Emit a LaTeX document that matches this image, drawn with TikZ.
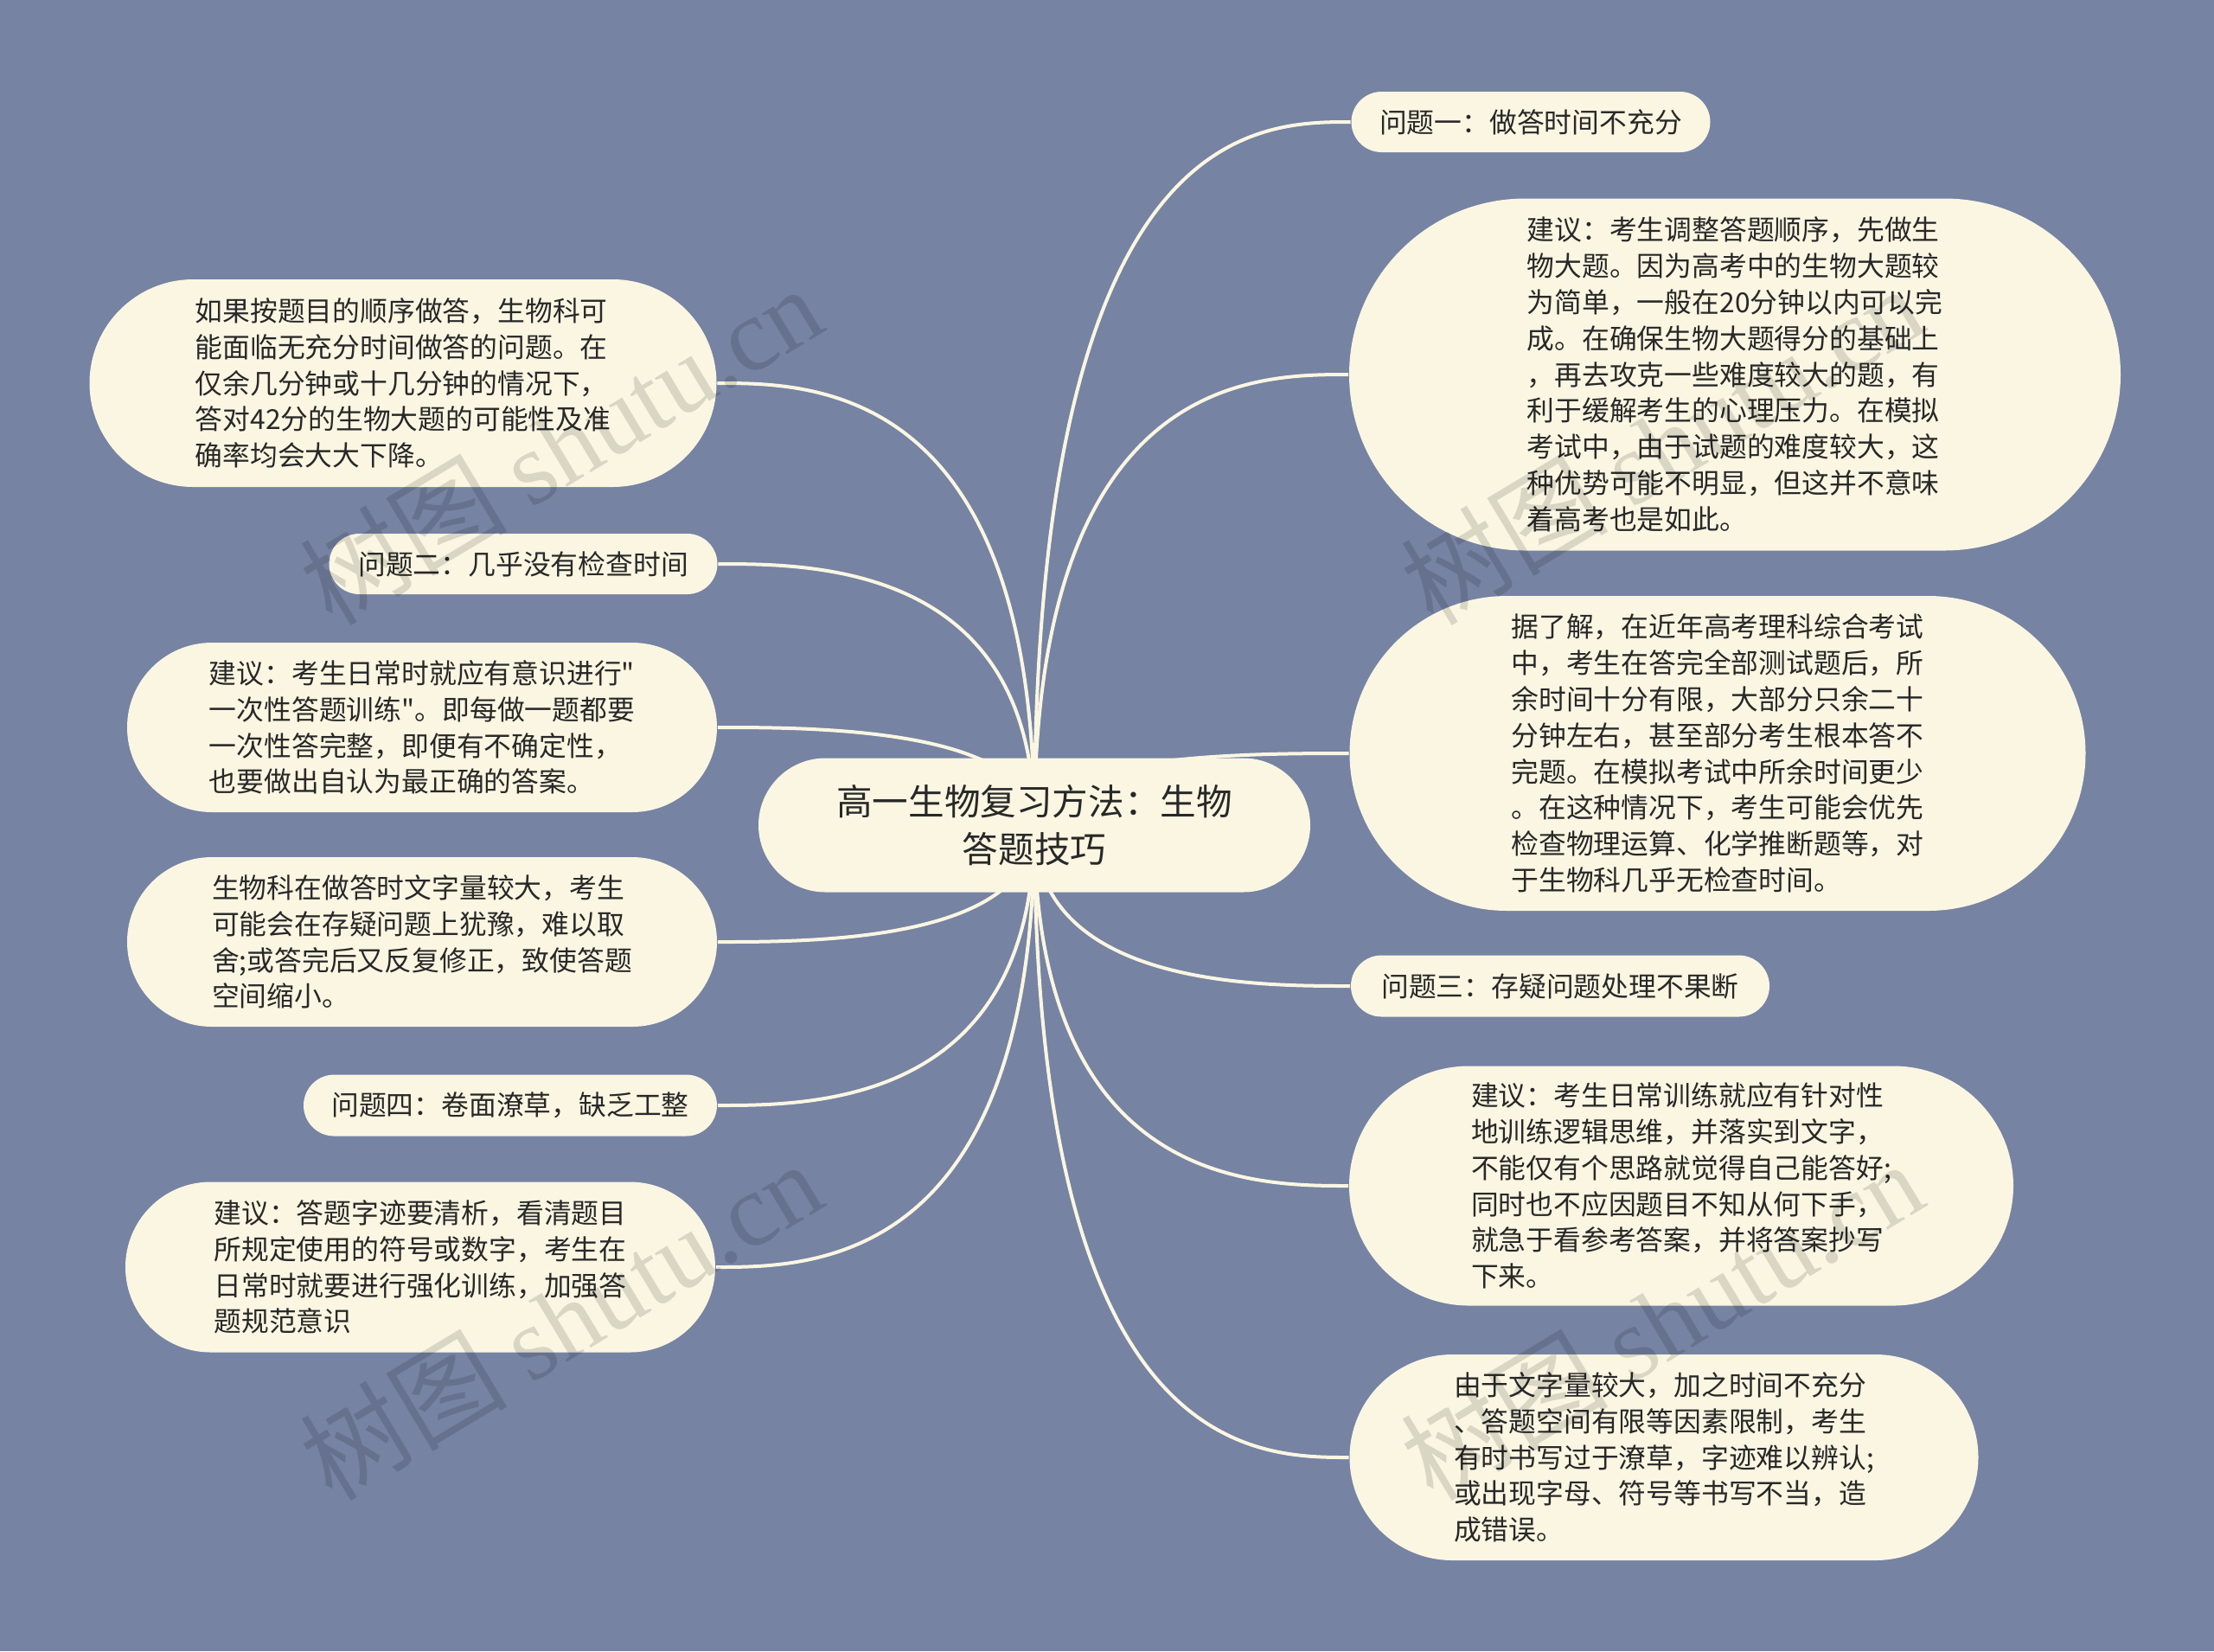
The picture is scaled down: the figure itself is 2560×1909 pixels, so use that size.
\documentclass[tikz,border=0pt]{standalone}
\usepackage{fontspec}
\setmainfont{Noto Sans CJK SC}
\newfontfamily\cjkf{Noto Sans CJK SC}
\newfontfamily\wmserif{Liberation Serif}
\usetikzlibrary{calc,shapes.misc}
\definecolor{bgc}{RGB}{118,131,163}
\definecolor{nodefill}{RGB}{250,246,226}
\definecolor{textc}{RGB}{40,40,40}
\definecolor{edgec}{RGB}{250,246,226}
\pgfdeclarelayer{background}
\pgfsetlayers{background,main}
\tikzset{
  bub/.style={rounded rectangle, fill=nodefill, draw=none, inner sep=0pt,
    text=textc, align=left, font=\cjkf\fontsize{7.95pt}{10.45pt}\selectfont},
  titlebub/.style={bub, align=center,
    font=\cjkf\fontsize{10.4pt}{13.9pt}\selectfont},
  edge/.style={draw=edgec, line width=1pt},
  wm/.style={rotate=31, text=black, opacity=0.13, inner sep=0pt,
    font=\cjkf\fontsize{30pt}{30pt}\selectfont}
}
\begin{document}
\begin{tikzpicture}[x=0.25pt, y=-0.25pt]
\useasboundingbox (0,0) rectangle (2560,1909);

% centre
\node[titlebub, minimum width=159.5pt, minimum height=38.75pt] (c) at (1196,954) {高一生物复习方法：生物\\答题技巧};

% right side
\node[bub, align=center, minimum width=103.75pt, minimum height=17.5pt] (n1) at (1770,141) {问题一：做答时间不充分};
\node[bub, minimum width=223pt, minimum height=101.75pt] (n2) at (2006,433) {建议：考生调整答题顺序，先做生\\物大题。因为高考中的生物大题较\\为简单，一般在20分钟以内可以完\\成。在确保生物大题得分的基础上\\，再去攻克一些难度较大的题，有\\利于缓解考生的心理压力。在模拟\\考试中，由于试题的难度较大，这\\种优势可能不明显，但这并不意味\\着高考也是如此。};
\node[bub, minimum width=212.75pt, minimum height=91pt] (n3) at (1986,871) {据了解，在近年高考理科综合考试\\中，考生在答完全部测试题后，所\\余时间十分有限，大部分只余二十\\分钟左右，甚至部分考生根本答不\\完题。在模拟考试中所余时间更少\\。在这种情况下，考生可能会优先\\检查物理运算、化学推断题等，对\\于生物科几乎无检查时间。};
\node[bub, align=center, minimum width=121pt, minimum height=17.75pt] (n4) at (1804,1140) {问题三：存疑问题处理不果断};
\node[bub, minimum width=192pt, minimum height=69.25pt] (n5) at (1944,1371) {建议：考生日常训练就应有针对性\\地训练逻辑思维，并落实到文字，\\不能仅有个思路就觉得自己能答好;\\同时也不应因题目不知从何下手，\\就急于看参考答案，并将答案抄写\\下来。};
\node[bub, minimum width=181.75pt, minimum height=59.5pt] (n6) at (1924,1685) {由于文字量较大，加之时间不充分\\、答题空间有限等因素限制，考生\\有时书写过于潦草，字迹难以辨认;\\或出现字母、符号等书写不当，造\\成错误。};

% left side
\node[bub, minimum width=181.25pt, minimum height=60pt] (l1) at (466,443) {如果按题目的顺序做答，生物科可\\能面临无充分时间做答的问题。在\\仅余几分钟或十几分钟的情况下，\\答对42分的生物大题的可能性及准\\确率均会大大下降。};
\node[bub, align=center, minimum width=112.25pt, minimum height=17.5pt] (l2) at (605,652) {问题二：几乎没有检查时间};
\node[bub, minimum width=170.5pt, minimum height=49pt] (l3) at (488,841) {建议：考生日常时就应有意识进行"\\一次性答题训练"。即每做一题都要\\一次性答完整，即便有不确定性，\\也要做出自认为最正确的答案。};
\node[bub, minimum width=170.5pt, minimum height=49pt] (l4) at (488,1089) {生物科在做答时文字量较大，考生\\可能会在存疑问题上犹豫，难以取\\舍;或答完后又反复修正，致使答题\\空间缩小。};
\node[bub, align=center, minimum width=119.5pt, minimum height=17.75pt] (l5) at (590,1278) {问题四：卷面潦草，缺乏工整};
\node[bub, minimum width=170.5pt, minimum height=49.25pt] (l6) at (486,1465) {建议：答题字迹要清析，看清题目\\所规定使用的符号或数字，考生在\\日常时就要进行强化训练，加强答\\题规范意识};

\begin{pgfonlayer}{background}
  \fill[bgc] (0,0) rectangle (2560,1909);
  \foreach \n in {n1,n2,n3,n4,n5,n6}{
    \draw[edge] (c.center) .. controls (c.center |- \n.west) and ($(c.center |- \n.west)!0.7!(\n.west)$) .. (\n.west);
  }
  \foreach \n in {l1,l2,l3,l4,l5,l6}{
    \draw[edge] (c.center) .. controls (c.center |- \n.east) and ($(c.center |- \n.east)!0.7!(\n.east)$) .. (\n.east);
  }
\end{pgfonlayer}

% watermarks
\node[wm] (w1) at (648,514) {树图 {\wmserif shutu.cn}};
\node[wm] (w2) at (1921,514) {树图 {\wmserif shutu.cn}};
\node[wm] (w3) at (648,1526) {树图 {\wmserif shutu.cn}};
\node[wm] (w4) at (1921,1526) {树图 {\wmserif shutu.cn}};
\end{tikzpicture}
\end{document}
